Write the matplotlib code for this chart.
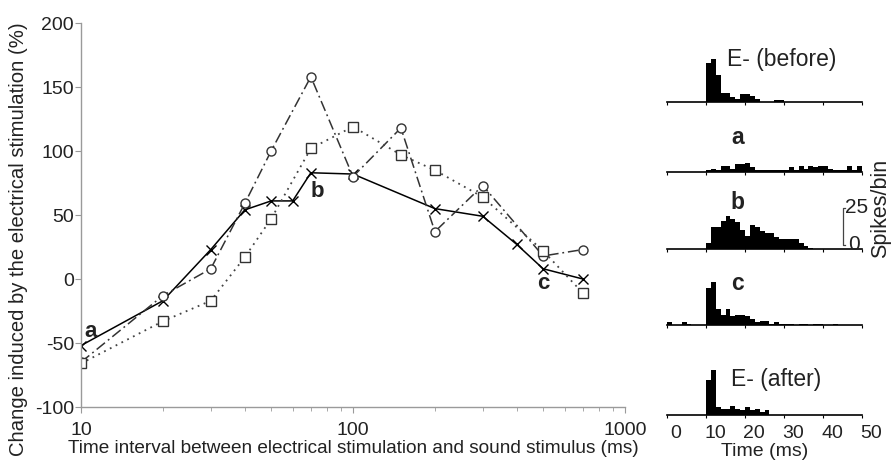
import numpy as np
import matplotlib
matplotlib.use("Agg")
import matplotlib.pyplot as plt
from matplotlib.transforms import ScaledTranslation

plt.rcParams['font.family'] = ['Liberation Sans', 'DejaVu Sans']
plt.rcParams['axes.unicode_minus'] = False

# ===== Main plot data =====
t_cross = [10, 20, 30, 40, 50, 60, 70, 100, 200, 300, 400, 500, 700]
v_cross = [-52, -17, 23, 54, 61, 61, 83, 82, 55, 49, 27, 8, 0]

t_circ = [10, 20, 30, 40, 50, 70, 100, 150, 200, 300, 500, 700]
v_circ = [-65, -13, 8, 59, 100, 158, 80, 118, 37, 73, 18, 23]

t_sq = [10, 20, 30, 40, 50, 70, 100, 150, 200, 300, 500, 700]
v_sq = [-66, -33, -17, 17, 47, 102, 119, 97, 85, 64, 22, -11]

# ===== PSTH data (spikes per 1.25 ms bin, 0-50 ms) =====
BIN = 1.25
h_before = [0, 0, 0, 0, 0, 0, 0, 0, 26, 29, 18, 6, 6, 3, 2, 5, 5, 4, 2, 0,
            0, 0, 1, 1, 0, 0, 0, 0, 0, 0, 0, 0, 0, 0, 0, 0, 0, 0, 0, 0]
h_a = [0, 0, 0, 0, 0, 0, 0, 0, 1, 2, 1, 4, 4, 2, 5, 5, 6, 3, 1, 1,
       1, 1, 1, 1, 1, 3, 1, 4, 2, 4, 3, 4, 4, 2, 1, 1, 1, 4, 1, 4]
h_b = [0, 0, 0, 0, 0, 0, 0, 0, 4, 15, 15, 19, 22, 20, 18, 13, 9, 16, 15, 12,
       11, 11, 8, 7, 7, 7, 7, 4, 2, 1, 0, 0, 0, 0, 0, 0, 0, 0, 0, 0]
h_c = [2, 0, 0, 2, 1, 0, 0, 0, 25, 29, 11, 7, 11, 6, 7, 7, 6, 4, 2, 3,
       3, 1, 2, 1, 1, 1, 0, 1, 1, 0, 1, 1, 0, 0, 1, 0, 0, 0, 0, 0]
h_after = [0, 0, 0, 0, 0, 0, 0, 0, 23, 30, 5, 4, 4, 6, 4, 3, 5, 3, 4, 2,
           3, 0, 0, 0, 0, 0, 0, 0, 0, 0, 0, 0, 0, 0, 0, 0, 0, 0, 0, 0]

INK = '#222222'
W, H = 892, 464
fig = plt.figure(figsize=(W / 100, H / 100), dpi=100)

# ===== Main plot =====
ax = fig.add_axes([81 / W, 1 - 408 / H, 544 / W, 384 / H])
ax.plot(t_cross, v_cross, '-', color='black', lw=1.1, marker='x', ms=7,
        mew=1.0)
ax.plot(t_circ, v_circ, color='#333333', lw=1.1, ls=(0, (7, 2.5, 1.2, 2.5)),
        marker='o', ms=6.5, mfc='white', mec='#333333', mew=1.0)
ax.plot(t_sq, v_sq, color='#444444', lw=1.3, ls=(0, (1, 2.6)),
        marker='s', ms=6.5, mfc='white', mec='#333333', mew=1.0)

ax.set_xscale('log')
ax.set_xlim(10, 1000)
ax.set_ylim(-100, 200)
ax.set_yticks(np.arange(-100, 201, 50))
ax.set_xticks([10, 100, 1000])
ax.set_xticklabels(['10', '100', '1000'])
for s in ('top', 'right'):
    ax.spines[s].set_visible(False)
for s in ('left', 'bottom'):
    ax.spines[s].set_color('#9a9a9a')
    ax.spines[s].set_linewidth(1.0)
ax.tick_params(axis='both', which='both', colors='#9a9a9a', labelcolor=INK,
               labelsize=14, direction='out')
ax.tick_params(axis='y', length=4, pad=1)
ax.tick_params(axis='x', which='major', length=4, pad=6)
ax.tick_params(axis='x', which='minor', length=3)
ax.xaxis.set_minor_formatter(plt.NullFormatter())

ax.set_xlabel('Time interval between electrical stimulation and sound stimulus (ms)',
              fontsize=13.7, color=INK, labelpad=1)
ax.set_ylabel('Change induced by the electrical stimulation (%)',
              fontsize=14.6, color=INK)
ax.yaxis.set_label_coords(-0.098, 0.44)

ax.text(10.3, -40, 'a', fontsize=16, fontweight='bold', color=INK,
        ha='left', va='center')
ax.text(74, 69, 'b', fontsize=16, fontweight='bold', color=INK,
        ha='center', va='center')
ax.text(500, -3, 'c', fontsize=16, fontweight='bold', color=INK,
        ha='center', va='center')

# ===== PSTH panels =====
PX_PER_SPIKE = 1.48
YMAX = 35
baselines = [102.7, 172.6, 250, 326, 415.5]
hists = [h_before, h_a, h_b, h_c, h_after]
edges = np.arange(0, 50, BIN)

hax = []
for i, (base, h) in enumerate(zip(baselines, hists)):
    hh = YMAX * PX_PER_SPIKE
    a = fig.add_axes([667 / W, 1 - base / H, 195 / W, hh / H])
    a.bar(edges, h, width=BIN, align='edge', color='black', lw=0)
    a.set_xlim(0, 50)
    a.set_ylim(0, YMAX)
    a.set_yticks([])
    for s in ('top', 'right', 'left'):
        a.spines[s].set_visible(False)
    a.spines['bottom'].set_linewidth(1.2)
    a.set_xticks(np.arange(0, 51, 10))
    a.tick_params(axis='x', direction='out', length=2.5, width=0.8,
                  labelsize=14, labelcolor=INK, pad=4)
    if i < 4:
        a.set_xticklabels([])
    else:
        off = ScaledTranslation(9 / 100, 0, fig.dpi_scale_trans)
        for lab in a.get_xticklabels():
            lab.set_transform(lab.get_transform() + off)
        a.set_xlabel('Time (ms)', fontsize=14, color=INK, labelpad=1)
    hax.append(a)

hax[0].text(15.5, 29, 'E- (before)', fontsize=16.5, color=INK, ha='left', va='center')
hax[1].text(18, 24, 'a', fontsize=16.5, fontweight='bold', color=INK,
            ha='center', va='center')
hax[2].text(18, 32, 'b', fontsize=16.5, fontweight='bold', color=INK,
            ha='center', va='center')
hax[3].text(18, 29, 'c', fontsize=16.5, fontweight='bold', color=INK,
            ha='center', va='center')
hax[4].text(16.5, 24, 'E- (after)', fontsize=16.5, color=INK, ha='left', va='center')

# scale bar
sb = hax[2]
sb.plot([45.6, 45, 45, 45.6], [28, 28, 3, 3], color='#444444', lw=0.9,
        clip_on=False)
sb.text(45.6, 29, '25', fontsize=15, color=INK, ha='left', va='center',
        clip_on=False)
sb.text(46.4, 3.5, '0', fontsize=15, color=INK, ha='left', va='center',
        clip_on=False)
fig.text(881 / W, 1 - 208 / H, 'Spikes/bin', fontsize=15.5, color=INK,
         rotation=90, ha='center', va='center')

fig.savefig('out.png', dpi=100)
